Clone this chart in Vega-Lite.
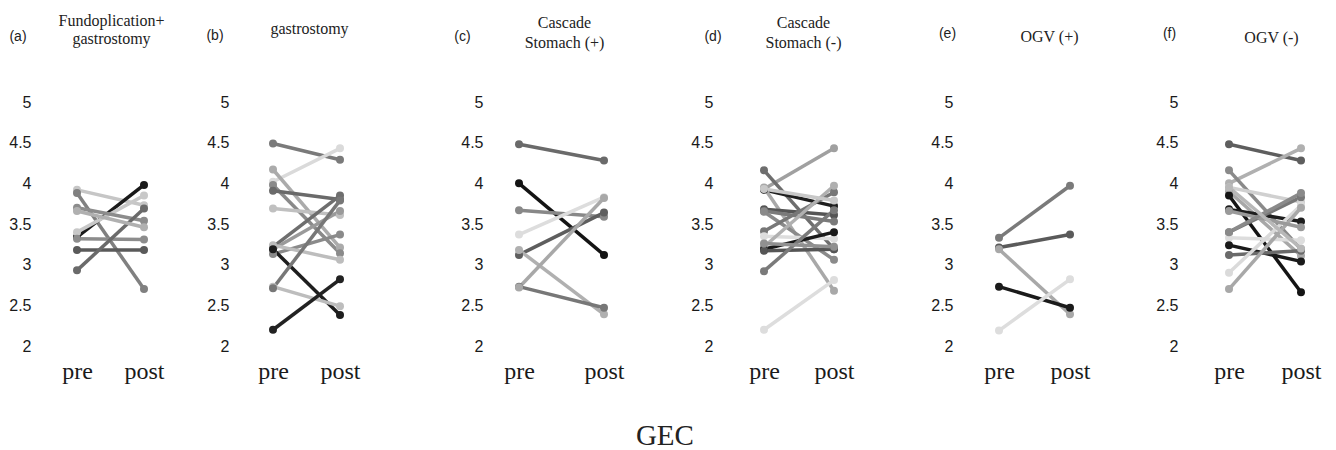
{
  "$schema": "https://vega.github.io/schema/vega-lite/v6.json",
  "background": "white",
  "padding": {"left": 8, "top": 12, "right": 0, "bottom": 0},
  "spacing": 0,
  "bounds": "flush",
  "config": {
    "view": {"stroke": null},
    "axisX": {"domain": false, "ticks": false, "grid": false, "labelAngle": 0, "labelFont": "Liberation Serif", "labelFontSize": 24, "labelColor": "#1a1a1a", "labelBaseline": "alphabetic", "labelPadding": 32, "titleFont": "Liberation Serif", "titleFontSize": 16, "titleFontWeight": "normal", "titleColor": "#222222", "titleAlign": "center", "titleBaseline": "alphabetic", "titleAngle": 0},
    "axisY": {"domain": false, "ticks": false, "grid": false, "labelFont": "Liberation Sans", "labelFontSize": 16, "labelColor": "#1a1a1a", "labelPadding": 4, "values": [2, 2.5, 3, 3.5, 4, 4.5, 5], "format": "~g", "titleFont": "Liberation Sans", "titleFontSize": 14, "titleFontWeight": "normal", "titleColor": "#222222", "titleAngle": 0, "titleAlign": "center", "titleBaseline": "alphabetic"}
  },
  "title": {"text": "GEC", "orient": "bottom", "anchor": "middle", "font": "Liberation Serif", "fontSize": 29, "fontWeight": "normal", "color": "#222222", "offset": 39},
  "data": {"values": [
    {"p": "a", "id": "a1", "t": "pre", "v": 3.92}, {"p": "a", "id": "a1", "t": "post", "v": 3.73},
    {"p": "a", "id": "a2", "t": "pre", "v": 3.88}, {"p": "a", "id": "a2", "t": "post", "v": 2.7},
    {"p": "a", "id": "a3", "t": "pre", "v": 3.34}, {"p": "a", "id": "a3", "t": "post", "v": 3.98},
    {"p": "a", "id": "a4", "t": "pre", "v": 3.4}, {"p": "a", "id": "a4", "t": "post", "v": 3.85},
    {"p": "a", "id": "a5", "t": "pre", "v": 3.7}, {"p": "a", "id": "a5", "t": "post", "v": 3.54},
    {"p": "a", "id": "a6", "t": "pre", "v": 3.32}, {"p": "a", "id": "a6", "t": "post", "v": 3.31},
    {"p": "a", "id": "a7", "t": "pre", "v": 3.18}, {"p": "a", "id": "a7", "t": "post", "v": 3.18},
    {"p": "a", "id": "a8", "t": "pre", "v": 2.93}, {"p": "a", "id": "a8", "t": "post", "v": 3.69},
    {"p": "a", "id": "a9", "t": "pre", "v": 3.66}, {"p": "a", "id": "a9", "t": "post", "v": 3.46},

    {"p": "b", "id": "b1", "t": "pre", "v": 4.49}, {"p": "b", "id": "b1", "t": "post", "v": 4.29},
    {"p": "b", "id": "b2", "t": "pre", "v": 4.02}, {"p": "b", "id": "b2", "t": "post", "v": 4.43},
    {"p": "b", "id": "b3", "t": "pre", "v": 4.17}, {"p": "b", "id": "b3", "t": "post", "v": 3.21},
    {"p": "b", "id": "b4", "t": "pre", "v": 3.98}, {"p": "b", "id": "b4", "t": "post", "v": 3.14},
    {"p": "b", "id": "b5", "t": "pre", "v": 3.91}, {"p": "b", "id": "b5", "t": "post", "v": 3.8},
    {"p": "b", "id": "b6", "t": "pre", "v": 3.69}, {"p": "b", "id": "b6", "t": "post", "v": 3.61},
    {"p": "b", "id": "b7", "t": "pre", "v": 3.22}, {"p": "b", "id": "b7", "t": "post", "v": 3.85},
    {"p": "b", "id": "b8", "t": "pre", "v": 3.19}, {"p": "b", "id": "b8", "t": "post", "v": 3.66},
    {"p": "b", "id": "b9", "t": "pre", "v": 3.13}, {"p": "b", "id": "b9", "t": "post", "v": 3.37},
    {"p": "b", "id": "b10", "t": "pre", "v": 3.24}, {"p": "b", "id": "b10", "t": "post", "v": 3.06},
    {"p": "b", "id": "b11", "t": "pre", "v": 3.19}, {"p": "b", "id": "b11", "t": "post", "v": 2.38},
    {"p": "b", "id": "b12", "t": "pre", "v": 2.73}, {"p": "b", "id": "b12", "t": "post", "v": 2.49},
    {"p": "b", "id": "b13", "t": "pre", "v": 2.71}, {"p": "b", "id": "b13", "t": "post", "v": 3.79},
    {"p": "b", "id": "b14", "t": "pre", "v": 2.2}, {"p": "b", "id": "b14", "t": "post", "v": 2.82},

    {"p": "c", "id": "c1", "t": "pre", "v": 4.48}, {"p": "c", "id": "c1", "t": "post", "v": 4.28},
    {"p": "c", "id": "c2", "t": "pre", "v": 4.0}, {"p": "c", "id": "c2", "t": "post", "v": 3.12},
    {"p": "c", "id": "c3", "t": "pre", "v": 3.67}, {"p": "c", "id": "c3", "t": "post", "v": 3.59},
    {"p": "c", "id": "c4", "t": "pre", "v": 3.37}, {"p": "c", "id": "c4", "t": "post", "v": 3.83},
    {"p": "c", "id": "c5", "t": "pre", "v": 3.12}, {"p": "c", "id": "c5", "t": "post", "v": 3.64},
    {"p": "c", "id": "c6", "t": "pre", "v": 3.18}, {"p": "c", "id": "c6", "t": "post", "v": 2.39},
    {"p": "c", "id": "c7", "t": "pre", "v": 2.73}, {"p": "c", "id": "c7", "t": "post", "v": 2.47},
    {"p": "c", "id": "c8", "t": "pre", "v": 2.72}, {"p": "c", "id": "c8", "t": "post", "v": 3.82},

    {"p": "d", "id": "d1", "t": "pre", "v": 3.93}, {"p": "d", "id": "d1", "t": "post", "v": 4.43},
    {"p": "d", "id": "d2", "t": "pre", "v": 4.16}, {"p": "d", "id": "d2", "t": "post", "v": 3.19},
    {"p": "d", "id": "d3", "t": "pre", "v": 3.92}, {"p": "d", "id": "d3", "t": "post", "v": 3.72},
    {"p": "d", "id": "d4", "t": "pre", "v": 3.95}, {"p": "d", "id": "d4", "t": "post", "v": 2.68},
    {"p": "d", "id": "d5", "t": "pre", "v": 3.68}, {"p": "d", "id": "d5", "t": "post", "v": 3.61},
    {"p": "d", "id": "d6", "t": "pre", "v": 3.66}, {"p": "d", "id": "d6", "t": "post", "v": 3.53},
    {"p": "d", "id": "d7", "t": "pre", "v": 3.65}, {"p": "d", "id": "d7", "t": "post", "v": 3.06},
    {"p": "d", "id": "d8", "t": "pre", "v": 3.41}, {"p": "d", "id": "d8", "t": "post", "v": 3.89},
    {"p": "d", "id": "d9", "t": "pre", "v": 3.35}, {"p": "d", "id": "d9", "t": "post", "v": 3.32},
    {"p": "d", "id": "d10", "t": "pre", "v": 3.22}, {"p": "d", "id": "d10", "t": "post", "v": 3.97},
    {"p": "d", "id": "d11", "t": "pre", "v": 3.19}, {"p": "d", "id": "d11", "t": "post", "v": 3.4},
    {"p": "d", "id": "d12", "t": "pre", "v": 3.17}, {"p": "d", "id": "d12", "t": "post", "v": 3.19},
    {"p": "d", "id": "d13", "t": "pre", "v": 2.92}, {"p": "d", "id": "d13", "t": "post", "v": 3.67},
    {"p": "d", "id": "d14", "t": "pre", "v": 2.2}, {"p": "d", "id": "d14", "t": "post", "v": 2.81},
    {"p": "d", "id": "d15", "t": "pre", "v": 3.93}, {"p": "d", "id": "d15", "t": "post", "v": 3.79},
    {"p": "d", "id": "d16", "t": "pre", "v": 3.26}, {"p": "d", "id": "d16", "t": "post", "v": 3.22},

    {"p": "e", "id": "e1", "t": "pre", "v": 3.33}, {"p": "e", "id": "e1", "t": "post", "v": 3.97},
    {"p": "e", "id": "e2", "t": "pre", "v": 3.21}, {"p": "e", "id": "e2", "t": "post", "v": 3.37},
    {"p": "e", "id": "e3", "t": "pre", "v": 3.19}, {"p": "e", "id": "e3", "t": "post", "v": 2.39},
    {"p": "e", "id": "e4", "t": "pre", "v": 2.73}, {"p": "e", "id": "e4", "t": "post", "v": 2.47},
    {"p": "e", "id": "e5", "t": "pre", "v": 2.19}, {"p": "e", "id": "e5", "t": "post", "v": 2.82},

    {"p": "f", "id": "f1", "t": "pre", "v": 4.48}, {"p": "f", "id": "f1", "t": "post", "v": 4.28},
    {"p": "f", "id": "f2", "t": "pre", "v": 4.0}, {"p": "f", "id": "f2", "t": "post", "v": 4.43},
    {"p": "f", "id": "f3", "t": "pre", "v": 4.16}, {"p": "f", "id": "f3", "t": "post", "v": 3.19},
    {"p": "f", "id": "f4", "t": "pre", "v": 3.95}, {"p": "f", "id": "f4", "t": "post", "v": 3.77},
    {"p": "f", "id": "f5", "t": "pre", "v": 3.9}, {"p": "f", "id": "f5", "t": "post", "v": 3.11},
    {"p": "f", "id": "f6", "t": "pre", "v": 3.85}, {"p": "f", "id": "f6", "t": "post", "v": 2.66},
    {"p": "f", "id": "f7", "t": "pre", "v": 3.68}, {"p": "f", "id": "f7", "t": "post", "v": 3.53},
    {"p": "f", "id": "f8", "t": "pre", "v": 3.4}, {"p": "f", "id": "f8", "t": "post", "v": 3.83},
    {"p": "f", "id": "f9", "t": "pre", "v": 3.33}, {"p": "f", "id": "f9", "t": "post", "v": 3.3},
    {"p": "f", "id": "f10", "t": "pre", "v": 3.24}, {"p": "f", "id": "f10", "t": "post", "v": 3.04},
    {"p": "f", "id": "f11", "t": "pre", "v": 3.12}, {"p": "f", "id": "f11", "t": "post", "v": 3.17},
    {"p": "f", "id": "f12", "t": "pre", "v": 2.9}, {"p": "f", "id": "f12", "t": "post", "v": 3.73},
    {"p": "f", "id": "f13", "t": "pre", "v": 2.7}, {"p": "f", "id": "f13", "t": "post", "v": 3.7},
    {"p": "f", "id": "f14", "t": "pre", "v": 3.66}, {"p": "f", "id": "f14", "t": "post", "v": 3.46},
    {"p": "f", "id": "f15", "t": "pre", "v": 3.4}, {"p": "f", "id": "f15", "t": "post", "v": 3.88},
    {"p": "f", "id": "f16", "t": "pre", "v": 3.95}, {"p": "f", "id": "f16", "t": "post", "v": 3.2}
  ]},
  "resolve": {"scale": {"color": "independent"}},
  "hconcat": [
    {
      "width": 198, "height": 244,
      "transform": [{"filter": "datum.p == 'a'"}],
      "encoding": {
        "x": {"field": "t", "type": "ordinal", "sort": ["pre", "post"], "scale": {"type": "point", "range": [42, 109], "padding": 0}, "axis": {"title": ["Fundoplication+", "gastrostomy"], "titleX": 76, "titleY": -320.7, "titleLineHeight": 18}},
        "y": {"field": "v", "type": "quantitative", "scale": {"domain": [2, 5], "nice": false, "zero": false}, "axis": {"title": "(a)", "titleX": -17.5, "titleY": -61.2}},
        "color": {"field": "id", "type": "nominal", "legend": null, "scale": {"domain": ["a1", "a2", "a3", "a4", "a5", "a6", "a7", "a8", "a9"], "range": ["#c6c6c6", "#808080", "#1a1a1a", "#c8c8c8", "#8c8c8c", "#8c8c8c", "#5a5a5a", "#6a6a6a", "#b0b0b0"]}}
      },
      "layer": [
        {"mark": {"type": "line", "strokeWidth": 3.5}},
        {"mark": {"type": "point", "filled": true, "size": 64, "opacity": 1}}
      ]
    },
    {
      "width": 254, "height": 244,
      "transform": [{"filter": "datum.p == 'b'"}],
      "encoding": {
        "x": {"field": "t", "type": "ordinal", "sort": ["pre", "post"], "scale": {"type": "point", "range": [40, 107], "padding": 0}, "axis": {"title": "gastrostomy", "titleX": 76, "titleY": -312.4}},
        "y": {"field": "v", "type": "quantitative", "scale": {"domain": [2, 5], "nice": false, "zero": false}, "axis": {"title": "(b)", "titleX": -18.5, "titleY": -62.7}},
        "color": {"field": "id", "type": "nominal", "legend": null, "scale": {"domain": ["b1", "b2", "b3", "b4", "b5", "b6", "b7", "b8", "b9", "b10", "b11", "b12", "b13", "b14"], "range": ["#7a7a7a", "#dadada", "#ababab", "#8a8a8a", "#6a6a6a", "#c0c0c0", "#6e6e6e", "#9a9a9a", "#8a8a8a", "#bdbdbd", "#1e1e1e", "#bdbdbd", "#777777", "#222222"]}}
      },
      "layer": [
        {"mark": {"type": "line", "strokeWidth": 3.5}},
        {"mark": {"type": "point", "filled": true, "size": 64, "opacity": 1}}
      ]
    },
    {
      "width": 230, "height": 244,
      "transform": [{"filter": "datum.p == 'c'"}],
      "encoding": {
        "x": {"field": "t", "type": "ordinal", "sort": ["pre", "post"], "scale": {"type": "point", "range": [32, 117], "padding": 0}, "axis": {"title": ["Cascade", "Stomach (+)"], "titleX": 77, "titleY": -319, "titleLineHeight": 20}},
        "y": {"field": "v", "type": "quantitative", "scale": {"domain": [2, 5], "nice": false, "zero": false}, "axis": {"title": "(c)", "titleX": -25, "titleY": -61.2}},
        "color": {"field": "id", "type": "nominal", "legend": null, "scale": {"domain": ["c1", "c2", "c3", "c4", "c5", "c6", "c7", "c8"], "range": ["#6a6a6a", "#141414", "#888888", "#dddddd", "#5e5e5e", "#b0b0b0", "#777777", "#a8a8a8"]}}
      },
      "layer": [
        {"mark": {"type": "line", "strokeWidth": 3.5}},
        {"mark": {"type": "point", "filled": true, "size": 64, "opacity": 1}}
      ]
    },
    {
      "width": 240, "height": 244,
      "transform": [{"filter": "datum.p == 'd'"}],
      "encoding": {
        "x": {"field": "t", "type": "ordinal", "sort": ["pre", "post"], "scale": {"type": "point", "range": [47, 117], "padding": 0}, "axis": {"title": ["Cascade", "Stomach (-)"], "titleX": 86, "titleY": -319, "titleLineHeight": 20}},
        "y": {"field": "v", "type": "quantitative", "scale": {"domain": [2, 5], "nice": false, "zero": false}, "axis": {"title": "(d)", "titleX": -4.5, "titleY": -61.7}},
        "color": {"field": "id", "type": "nominal", "legend": null, "scale": {"domain": ["d1", "d2", "d3", "d4", "d5", "d6", "d7", "d8", "d9", "d10", "d11", "d12", "d13", "d14", "d15", "d16"], "range": ["#a0a0a0", "#6e6e6e", "#1e1e1e", "#a8a8a8", "#555555", "#7a7a7a", "#8a8a8a", "#777777", "#dddddd", "#b0b0b0", "#1a1a1a", "#555555", "#7a7a7a", "#dddddd", "#c8c8c8", "#909090"]}}
      },
      "layer": [
        {"mark": {"type": "line", "strokeWidth": 3.5}},
        {"mark": {"type": "point", "filled": true, "size": 64, "opacity": 1}}
      ]
    },
    {
      "width": 225, "height": 244,
      "transform": [{"filter": "datum.p == 'e'"}],
      "encoding": {
        "x": {"field": "t", "type": "ordinal", "sort": ["pre", "post"], "scale": {"type": "point", "range": [42, 113], "padding": 0}, "axis": {"title": "OGV (+)", "titleX": 92, "titleY": -304.2}},
        "y": {"field": "v", "type": "quantitative", "scale": {"domain": [2, 5], "nice": false, "zero": false}, "axis": {"title": "(e)", "titleX": -10, "titleY": -64.7}},
        "color": {"field": "id", "type": "nominal", "legend": null, "scale": {"domain": ["e1", "e2", "e3", "e4", "e5"], "range": ["#7a7a7a", "#5a5a5a", "#a8a8a8", "#1a1a1a", "#dddddd"]}}
      },
      "layer": [
        {"mark": {"type": "line", "strokeWidth": 3.5}},
        {"mark": {"type": "point", "filled": true, "size": 64, "opacity": 1}}
      ]
    },
    {
      "width": 139, "height": 244,
      "transform": [{"filter": "datum.p == 'f'"}],
      "encoding": {
        "x": {"field": "t", "type": "ordinal", "sort": ["pre", "post"], "scale": {"type": "point", "range": [47, 119], "padding": 0}, "axis": {"title": "OGV (-)", "titleX": 89, "titleY": -303.4}},
        "y": {"field": "v", "type": "quantitative", "scale": {"domain": [2, 5], "nice": false, "zero": false}, "axis": {"title": "(f)", "titleX": -13, "titleY": -64.7}},
        "color": {"field": "id", "type": "nominal", "legend": null, "scale": {"domain": ["f1", "f2", "f3", "f4", "f5", "f6", "f7", "f8", "f9", "f10", "f11", "f12", "f13", "f14", "f15", "f16"], "range": ["#5e5e5e", "#b0b0b0", "#8a8a8a", "#d0d0d0", "#a8a8a8", "#141414", "#1e1e1e", "#777777", "#dddddd", "#1a1a1a", "#6a6a6a", "#dadada", "#a8a8a8", "#9a9a9a", "#8a8a8a", "#b8b8b8"]}}
      },
      "layer": [
        {"mark": {"type": "line", "strokeWidth": 3.5}},
        {"mark": {"type": "point", "filled": true, "size": 64, "opacity": 1}}
      ]
    }
  ]
}
